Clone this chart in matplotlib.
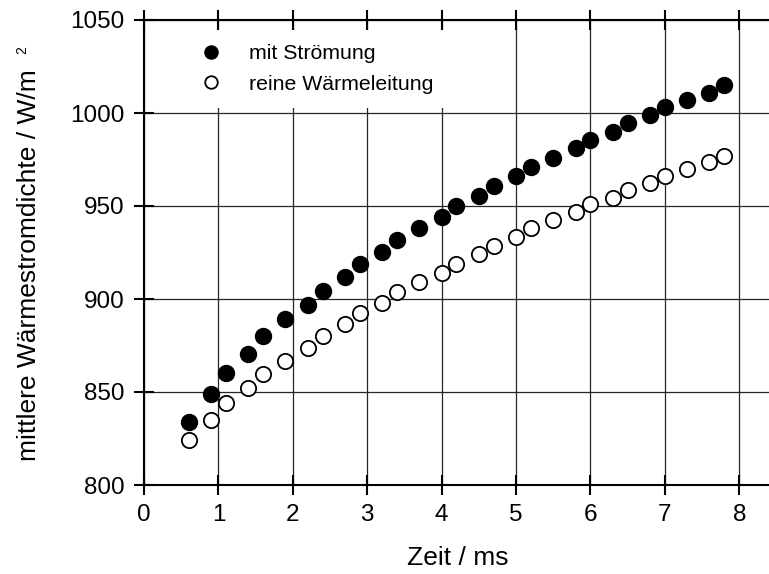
import numpy as np
import matplotlib
matplotlib.use('Agg')
from matplotlib import pyplot as plt
plt.rcParams['font.family'] = ['Liberation Sans', 'DejaVu Sans']

# Zeit in ms
zeit = [0.6, 0.9, 1.1, 1.4, 1.6, 1.9, 2.2, 2.4, 2.7, 2.9, 3.2, 3.4, 3.7, 4.0, 4.2,
        4.5, 4.7, 5.0, 5.2, 5.5, 5.8, 6.0, 6.3, 6.5, 6.8, 7.0, 7.3, 7.6, 7.8]
# mittlere Waermestromdichte in W/m^2
mit_stroemung = [834, 849, 860, 870.5, 880, 889, 897, 904.5, 912, 919, 925.5, 931.5, 938, 944, 950,
                 955.5, 961, 966, 971, 976, 981, 985.5, 990, 994.5, 999, 1003, 1007, 1011, 1015]
reine_leitung = [824, 835, 844, 852, 859.5, 866.5, 873.5, 880, 886.5, 892.5, 898, 903.5, 909, 914, 919,
                 924, 928.5, 933.5, 938, 942.5, 947, 951, 954.5, 958.5, 962.5, 966, 970, 973.5, 977]
labels = ['mit Strömung', 'reine Wärmeleitung']

fsize = 17.5
fig = plt.figure(figsize=(7.69, 5.74), dpi=100)
ax = fig.add_axes([144/769, 1 - 485/574, 1 - 144/769, 465/574])

ax.grid(True, color='0.15', linewidth=0.9)
ax.set_axisbelow(True)
ax.plot(zeit, mit_stroemung, 'o', color='black', ms=11.5, label=labels[0], zorder=3)
ax.plot(zeit, reine_leitung, 'o', mfc='white', mec='black', mew=1.3, ms=11, label=labels[1], zorder=3)

ax.set_xlim(0, 625/74.4)
ax.set_ylim(800, 1050)
ax.set_xticks(np.arange(0, 9, 1))
ax.set_yticks(np.arange(800, 1051, 50))
ax.spines['right'].set_visible(False)
for s in ['left', 'bottom', 'top']:
    ax.spines[s].set_linewidth(1.5)
ax.tick_params(axis='both', labelsize=fsize, direction='inout', length=14, width=1.5)
ax.tick_params(axis='x', top=True, labeltop=False, pad=6.5)
ax.tick_params(axis='y', pad=7)

leg = ax.legend(loc='upper left', bbox_to_anchor=(32/625, 455/465), fontsize=15.3, frameon=True,
                fancybox=False, framealpha=1, edgecolor='none', facecolor='white',
                borderpad=0.66, handletextpad=0.76, labelspacing=0.55, borderaxespad=0,
                handlelength=2.0, markerscale=0.82)
leg.set_zorder(5)

fig.text(458/769, 1 - 558/574, 'Zeit / ms', fontsize=19, ha='center', va='center')
fig.text(29/769, 1 - 265/574, 'mittlere Wärmestromdichte / W/m', fontsize=19,
         rotation=90, ha='center', va='center')
fig.text(22/769, 1 - 50/574, '2', fontsize=10, rotation=90, ha='center', va='center')

fig.savefig('out.png', dpi=100)
